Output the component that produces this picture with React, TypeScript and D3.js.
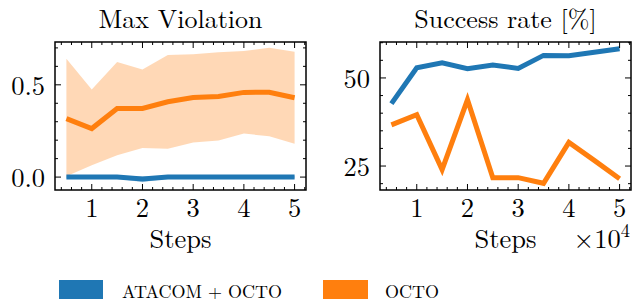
import React from "react";
import * as d3 from "d3";

const steps = [0.5, 1, 1.5, 2, 2.5, 3, 3.5, 4, 4.5, 5];
const violOctoMean = [0.317, 0.263, 0.372, 0.372, 0.408, 0.431, 0.437, 0.459, 0.46, 0.43];
const violOctoUpper = [0.641, 0.475, 0.623, 0.583, 0.661, 0.665, 0.676, 0.683, 0.701, 0.679];
const violOctoLower = [0.005, 0.064, 0.118, 0.158, 0.154, 0.187, 0.198, 0.236, 0.221, 0.181];
const violAtacomMean = [0.0, 0.0, 0.0, -0.01, 0.0, 0.0, 0.0, 0.0, 0.0, 0.0];
const violAtacomUpper = [0.006, 0.006, 0.006, 0.004, 0.006, 0.006, 0.006, 0.006, 0.006, 0.006];
const violAtacomLower = [-0.006, -0.006, -0.008, -0.028, -0.008, -0.006, -0.006, -0.006, -0.006, -0.006];
const successAtacom = [42.7, 52.9, 54.3, 52.6, 53.7, 52.7, 56.4, 56.3, 57.3, 58.3];
const successOcto = [36.7, 39.6, 24.0, 43.8, 21.7, 21.7, 20.1, 31.7, 26.6, 21.4];
const xTicks = [1, 2, 3, 4, 5];
const violTicks = [0.0, 0.5];
const successTicks = [25, 50];
const legendLabels = ["ATACOM + OCTO", "OCTO"];

const BLUE = "#1f77b4";
const ORANGE = "#ff7f0e";
const F: React.CSSProperties = { fontFamily: '"Latin Modern Roman"' };
const FS = 26.5;

type PanelProps = {
  x0: number;
  title: string;
  yDomain: [number, number];
  yTicks: number[];
  yMinor: number[];
  fmt: (v: number) => string;
  children: (x: d3.ScaleLinear<number, number>, y: d3.ScaleLinear<number, number>) => React.ReactNode;
  sci?: boolean;
};

const W = 251;
const TOP = 42;
const BOT = 190;

function Panel({ x0, title, yDomain, yTicks, yMinor, fmt, children, sci }: PanelProps) {
  const x = d3.scaleLinear().domain([0.275, 5.225]).range([x0, x0 + W]);
  const y = d3.scaleLinear().domain(yDomain).range([BOT, TOP]);
  const xMinor = d3.range(0.4, 5.21, 0.2).filter((v) => Math.abs(v - Math.round(v)) > 1e-6);
  const yMin = yMinor.filter((v) => v >= yDomain[0] && v <= yDomain[1]);
  const cx = x0 + W / 2;
  return (
    <g>
      <clipPath id={`clip${x0}`}>
        <rect x={x0} y={TOP} width={W} height={BOT - TOP} />
      </clipPath>
      <g clipPath={`url(#clip${x0})`}>{children(x, y)}</g>
      <g stroke="#000" strokeWidth={1}>
        {xTicks.map((t) => (
          <g key={"xm" + t}>
            <line x1={x(t)} x2={x(t)} y1={BOT} y2={BOT - 6} />
            <line x1={x(t)} x2={x(t)} y1={TOP} y2={TOP + 6} />
          </g>
        ))}
        {xMinor.map((t) => (
          <g key={"xn" + t}>
            <line x1={x(t)} x2={x(t)} y1={BOT} y2={BOT - 3} />
            <line x1={x(t)} x2={x(t)} y1={TOP} y2={TOP + 3} />
          </g>
        ))}
        {yTicks.map((t) => (
          <g key={"ym" + t}>
            <line x1={x0} x2={x0 + 6} y1={y(t)} y2={y(t)} />
            <line x1={x0 + W} x2={x0 + W - 6} y1={y(t)} y2={y(t)} />
          </g>
        ))}
        {yMin.map((t) => (
          <g key={"yn" + t}>
            <line x1={x0} x2={x0 + 3} y1={y(t)} y2={y(t)} />
            <line x1={x0 + W} x2={x0 + W - 3} y1={y(t)} y2={y(t)} />
          </g>
        ))}
      </g>
      <rect x={x0} y={TOP} width={W} height={BOT - TOP} fill="none" stroke="#000" strokeWidth={1.5} />
      <g fill="#000">
        {xTicks.map((t) => (
          <text key={"xl" + t} style={F} fontSize={FS} x={x(t)} y={216.5} textAnchor="middle">
            {t}
          </text>
        ))}
        {yTicks.map((t) => (
          <text key={"yl" + t} style={F} fontSize={FS} x={x0 - 10} y={y(t) + 10} textAnchor="end">
            {fmt(t)}
          </text>
        ))}
        <text x={cx} y={27.5} style={F} textAnchor="middle" fontSize={26}>
          {title}
        </text>
        <text x={cx} y={248} style={F} textAnchor="middle" fontSize={FS}>
          Steps
        </text>
        {sci && (
          <text x={x0 + W - 1} y={248} style={F} textAnchor="end" fontSize={FS}>
            ×10
            <tspan dy={-11} fontSize={18.5}>
              4
            </tspan>
          </text>
        )}
      </g>
    </g>
  );
}

export default function App() {
  const lineGen = (x: d3.ScaleLinear<number, number>, y: d3.ScaleLinear<number, number>, vals: number[]) =>
    d3
      .line<number>()
      .x((_, i) => x(steps[i]))
      .y((d) => y(d))(vals) as string;
  const areaGen = (
    x: d3.ScaleLinear<number, number>,
    y: d3.ScaleLinear<number, number>,
    lo: number[],
    hi: number[]
  ) =>
    d3
      .area<number>()
      .x((_, i) => x(steps[i]))
      .y0((_, i) => y(lo[i]))
      .y1((_, i) => y(hi[i]))(steps) as string;

  return (
    <svg width={644} height={304} style={{ position: "absolute", left: 0, top: 0, background: "#fff" }}>
      <rect width={644} height={304} fill="#fff" />
      <Panel
        x0={55}
        title="Max Violation"
        yDomain={[-0.07, 0.732]}
        yTicks={violTicks}
        yMinor={[0.1, 0.2, 0.3, 0.4, 0.6, 0.7]}
        fmt={(v) => v.toFixed(1)}
      >
        {(x, y) => (
          <>
            <path d={areaGen(x, y, violOctoLower, violOctoUpper)} fill={ORANGE} fillOpacity={0.3} />
            <path d={areaGen(x, y, violAtacomLower, violAtacomUpper)} fill={BLUE} fillOpacity={0.3} />
            <path d={lineGen(x, y, violOctoMean)} fill="none" stroke={ORANGE} strokeWidth={5} />
            <path d={lineGen(x, y, violAtacomMean)} fill="none" stroke={BLUE} strokeWidth={5} />
          </>
        )}
      </Panel>
      <Panel
        x0={380}
        title="Success rate [%]"
        yDomain={[18.2, 60.2]}
        yTicks={successTicks}
        yMinor={[20, 30, 35, 40, 45, 55, 60]}
        fmt={(v) => String(v)}
        sci
      >
        {(x, y) => (
          <>
            <path d={lineGen(x, y, successAtacom)} fill="none" stroke={BLUE} strokeWidth={5} />
            <path d={lineGen(x, y, successOcto)} fill="none" stroke={ORANGE} strokeWidth={5} />
          </>
        )}
      </Panel>
      <g>
        <rect x={59} y={280} width={44} height={19} fill={BLUE} />
        <text x={122} y={298} style={F} fontSize={18}>{legendLabels[0]}</text>
        <rect x={323} y={280} width={45} height={19} fill={ORANGE} />
        <text x={385} y={298} style={F} fontSize={18}>{legendLabels[1]}</text>
      </g>
    </svg>
  );
}
